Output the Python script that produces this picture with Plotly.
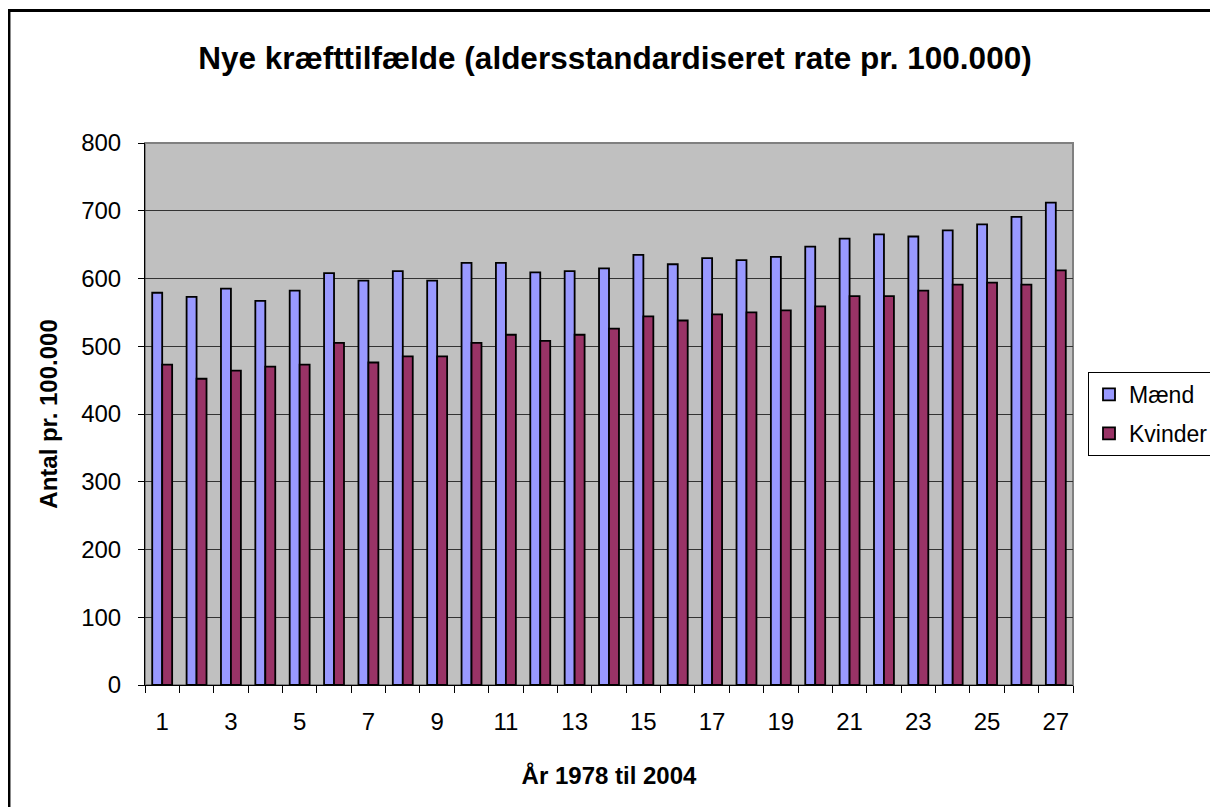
import plotly.graph_objects as go

years = list(range(1, 28))
maend = [579, 573, 585, 567, 582, 608, 597, 611, 597, 623, 623, 609, 611, 615, 635,
         621, 630, 627, 632, 647, 659, 665, 662, 671, 680, 691, 712]
kvinder = [473, 452, 464, 470, 473, 505, 476, 485, 485, 505, 517, 508, 517, 526, 544,
           538, 547, 550, 553, 559, 574, 574, 582, 591, 594, 591, 612]
x_ticks = list(range(1, 28, 2))

FONT = "Liberation Sans, Arial, sans-serif"

fig = go.Figure()
fig.add_trace(go.Bar(x=years, y=maend, name="Mænd", legendgroup="m",
                     marker=dict(color="#9999FF", line=dict(color="black", width=1.8))))
fig.add_trace(go.Bar(x=years, y=kvinder, name="Kvinder", legendgroup="k",
                     marker=dict(color="#993366", line=dict(color="black", width=1.8))))

# page body has an 8px margin, so the figure is a little smaller than the window
fig.update_layout(
    width=1210, height=799,
    margin=dict(l=137, r=145, t=135, b=122),
    paper_bgcolor="white",
    plot_bgcolor="#C0C0C0",
    barmode="group",
    bargap=0.42,
    bargroupgap=0,
    font=dict(family=FONT, size=24, color="black"),
    title=dict(text="<b>Nye kræfttilfælde (aldersstandardiseret rate pr. 100.000)</b>",
               x=(615 - 8) / 1210, xanchor="center", y=1 - 50 / 799, yanchor="middle",
               font=dict(size=31.5, family=FONT)),
    legend=dict(xref="container", x=(1088 - 8) / 1210, xanchor="left",
                y=0.5, yanchor="middle",
                bordercolor="black", borderwidth=1, bgcolor="white",
                font=dict(size=23), itemwidth=30,
                traceorder="grouped", tracegroupgap=6),
    showlegend=True,
)

fig.update_xaxes(
    range=[0.5, 27.5],
    tickvals=x_ticks, ticktext=[str(v) for v in x_ticks],
    ticks="", ticklabelstandoff=15,
    minor=dict(tickmode="linear", tick0=0.5, dtick=1, ticks="outside",
               ticklen=7, tickcolor="black", tickwidth=1),
    showline=True, linecolor="black", linewidth=1,
    showgrid=False, zeroline=False,
    title=dict(text="<b>År 1978 til 2004</b>", font=dict(size=24), standoff=33),
)
fig.update_yaxes(
    range=[0, 800], dtick=100,
    ticks="outside", ticklen=6, tickcolor="black", ticklabelstandoff=12,
    showline=True, linecolor="black", linewidth=1,
    showgrid=True, gridcolor="#333333", gridwidth=1,
    zeroline=False,
    title=dict(text="<b>Antal pr. 100.000</b>", font=dict(size=24), standoff=16),
)

# plot-area frame (grey, top/right) and outer chart border
fig.add_shape(type="rect", xref="x domain", yref="y domain", x0=0, x1=1, y0=0, y1=1,
              line=dict(color="#808080", width=2), layer="below")
fig.add_shape(type="rect", xref="paper", yref="paper",
              x0=-0.1466, x1=1.17, y0=-0.25, y1=1.2445,
              line=dict(color="black", width=3))

fig.write_html("out.html")
